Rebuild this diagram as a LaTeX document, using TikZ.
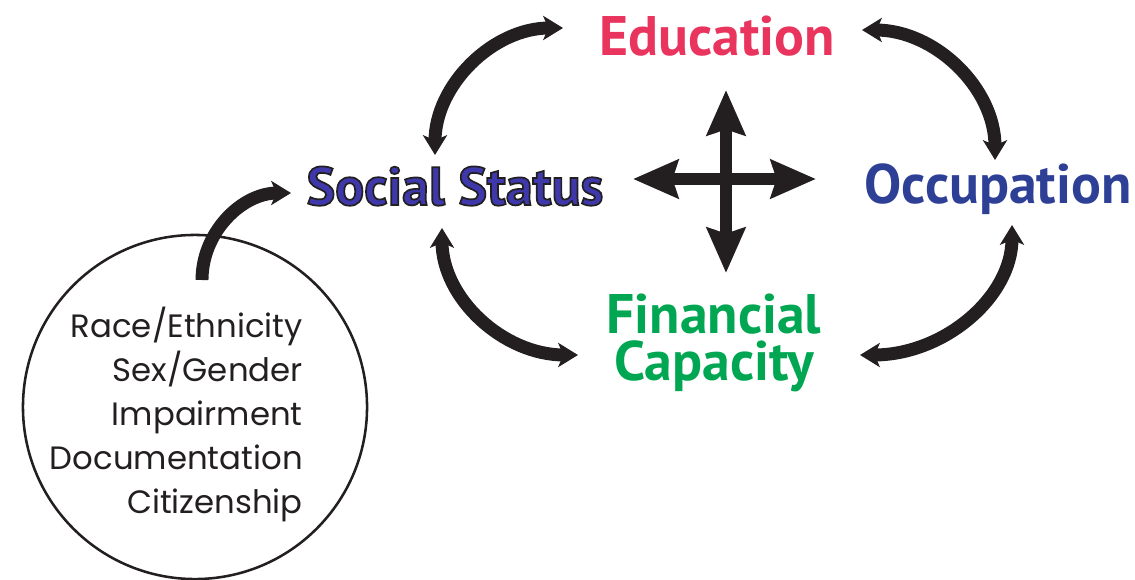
\documentclass[tikz,border=0pt]{standalone}
\usepackage{fontspec}
\setmainfont{PT Sans}
\newfontfamily\listfont{Poppins}[Ligatures=NoCommon]
\usetikzlibrary{arrows.meta}
\definecolor{edupink}{RGB}{233,52,94}
\definecolor{occblue}{RGB}{46,63,150}
\definecolor{fingreen}{RGB}{0,166,81}
\definecolor{statblue}{RGB}{62,56,170}
\definecolor{inkblack}{RGB}{35,31,32}

% outlined text: fill in current colour, stroke in ink black
\newcommand{\outlinetext}[1]{\special{pdf:literal direct 0.137 0.122 0.125 RG 1.2 w 2 Tr}#1\special{pdf:literal direct 0 Tr}}

\begin{document}
\begin{tikzpicture}[x=0.025cm,y=-0.025cm]

%
% Styles
%
\tikzstyle{heading} = [font=\bfseries\fontsize{39.6}{33}\selectfont,inner sep=0pt,anchor=base]
\tikzstyle{factors} = [font=\listfont\fontsize{23}{31.3}\selectfont,inner sep=0pt,align=right,text=inkblack]
\tikzstyle{ring}    = [circle,draw=inkblack,line width=1.8pt,minimum size=8.6cm,inner sep=0pt]
\tikzstyle{link}    = [{Stealth[length=14pt,width=17pt,inset=3.5pt]}-{Stealth[length=14pt,width=17pt,inset=3.5pt]},line width=9.2pt,draw=inkblack]
\tikzstyle{feed}    = [-{Stealth[length=14pt,width=17pt,inset=3.5pt]},line width=9.2pt,draw=inkblack]
\tikzstyle{cross}   = [{Stealth[length=32pt,width=27pt,inset=4pt]}-{Stealth[length=32pt,width=27pt,inset=4pt]},line width=9.2pt,draw=inkblack]

\useasboundingbox (0,0) rectangle (1135,579);

\node[heading,text=edupink]  (edu) at ( 717, 55) {Education};
\node[heading,text=statblue,font=\bfseries\fontsize{38.4}{33}\selectfont] (soc) at ( 455,205) {\outlinetext{Social Status}};
\node[heading,text=occblue]  (occ) at ( 998,203) {Occupation};
\node[heading,text=fingreen,anchor=center,align=center] (fin) at (714,343) {Financial\\Capacity};

\node[ring] (circ) at (195,407) {};
\node[factors,anchor=east] (grp) at (303,414)
  {Race/Ethnicity\\Sex/Gender\\Impairment\\Documentation\\Citizenship};

% arrow ends
\coordinate (socN)  at ( 435,155);
\coordinate (eduW)  at ( 563, 28);
\coordinate (eduE)  at ( 862, 30);
\coordinate (occN)  at ( 995,160);
\coordinate (socS)  at ( 442,228);
\coordinate (finW)  at ( 578,355);
\coordinate (occS)  at (1012,225);
\coordinate (finE)  at ( 860,355);
\coordinate (circN) at ( 202,280);
\coordinate (socW)  at ( 291,193);

\draw[link] (socN) .. controls (435, 85) and (493, 28) .. (eduW);
\draw[link] (eduE) .. controls (935, 30) and (995, 88) .. (occN);
\draw[link] (socS) .. controls (442,298) and (503,355) .. (finW);
\draw[link] (occS) .. controls (1012,297) and (944,355) .. (finE);
\draw[feed] (circN) .. controls (202,232) and (242,193) .. (socW);

\draw[cross] (726, 90) -- (726,273);
\draw[cross] (633,179) -- (816,179);

\end{tikzpicture}
\end{document}
